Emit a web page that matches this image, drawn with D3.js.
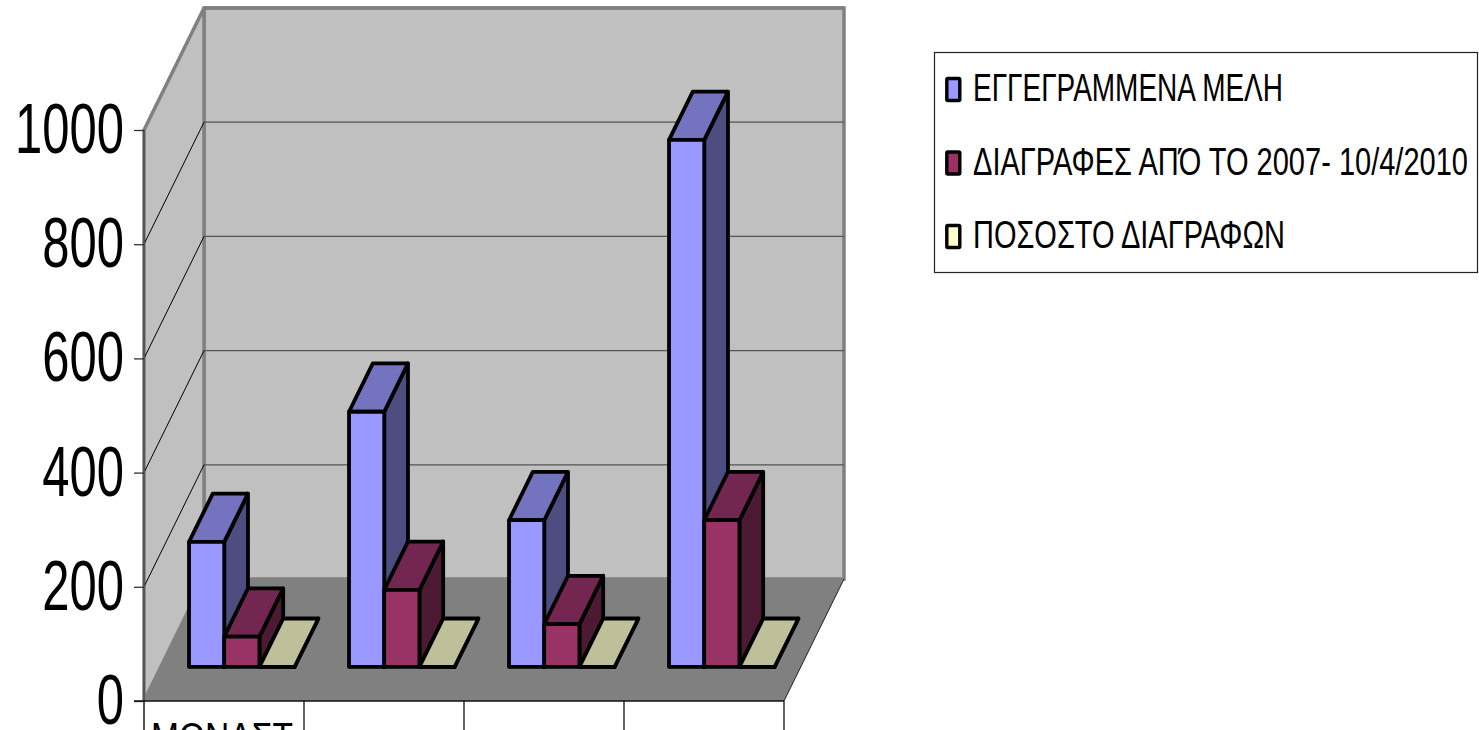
<!DOCTYPE html>
<html>
<head>
<meta charset="utf-8">
<script src="https://cdn.jsdelivr.net/npm/d3@7"></script>
<style>
html, body { margin: 0; padding: 0; background: #fff; overflow: hidden; }
text { font-family: "Liberation Sans", Arial, sans-serif; fill: #000; }
</style>
</head>
<body>
<div id="chart"></div>
<script>
// values
var categories = ["ΜΟΝΑΣΤ", "", " ", "  "];
var seriesNames = ["ΕΓΓΕΓΡΑΜΜΕΝΑ ΜΕΛΗ", "ΔΙΑΓΡΑΦΕΣ ΑΠΌ ΤΟ 2007- 10/4/2010", "ΠΟΣΟΣΤΟ ΔΙΑΓΡΑΦΩΝ"];
var members = [219, 447, 257, 923];
var deletions = [53, 135, 75, 257];
var deletionShare = [0.24, 0.3, 0.29, 0.28];
var yTicks = [0, 200, 400, 600, 800, 1000];

var frontColors = ["#9999ff", "#993366", "#ffffcc"];
var topColors = ["#7373bf", "#732650", "#bfbf99"];
var sideColors = ["#4d4d80", "#4d1a33", "#808066"];

var width = 1479, height = 730;

var svg = d3.select("#chart").append("svg")
    .attr("width", width)
    .attr("height", height)
    .style("display", "block");

var x = d3.scaleBand().domain(categories).range([144, 784]).paddingInner(0.34).paddingOuter(0.17).align(0.52);
var inner = d3.scaleBand().domain(d3.range(3)).range([0, x.bandwidth()]);
var y = d3.scaleLinear().domain([0, 1000]).range([701, 130]);

// depth axis of the 3d box: 0 is the front edge, 1 the back wall
var depthX = d3.scaleLinear().domain([0, 1]).range([0, 60]);
var depthY = d3.scaleLinear().domain([0, 1]).range([0, -122]);
var barFront = 0.279, barBack = 0.675;

function pt(px, value, depth) {
    return [px + depthX(depth), y(value) + depthY(depth)];
}

function poly(points) {
    return points.map(function(p) { return p.join(","); }).join(" ");
}

var left = x.range()[0], right = x.range()[1];

// walls and floor
svg.append("polygon")
    .attr("points", poly([pt(left, 1000, 1), pt(right, 1000, 1), pt(right, 0, 1), pt(left, 0, 1)]))
    .attr("fill", "#c0c0c0")
    .attr("stroke", "#808080")
    .attr("stroke-width", 3.5);

svg.append("polygon")
    .attr("points", poly([pt(left, 1000, 0), pt(left, 1000, 1), pt(left, 0, 1), pt(left, 0, 0)]))
    .attr("fill", "#c0c0c0")
    .attr("stroke", "#808080")
    .attr("stroke-width", 3.5);

svg.append("polygon")
    .attr("points", poly([pt(left, 0, 0), pt(right, 0, 0), pt(right, 0, 1), pt(left, 0, 1)]))
    .attr("fill", "#808080");

// gridlines
var gridTicks = yTicks.slice(1, -1);

svg.selectAll(".grid-back")
    .data(yTicks.slice(1))
    .enter()
    .append("line")
    .attr("class", "grid-back")
    .attr("x1", left + depthX(1))
    .attr("x2", right + depthX(1))
    .attr("y1", (d) => pt(left, d, 1)[1])
    .attr("y2", (d) => pt(left, d, 1)[1])
    .attr("stroke", (d) => d == 1000 ? "#808080" : "#555")
    .attr("stroke-width", (d) => d == 1000 ? 3.5 : 1.3);

svg.selectAll(".grid-side")
    .data(gridTicks)
    .enter()
    .append("line")
    .attr("class", "grid-side")
    .attr("x1", left)
    .attr("x2", left + depthX(1))
    .attr("y1", (d) => y(d))
    .attr("y2", (d) => pt(left, d, 1)[1])
    .attr("stroke", "#000")
    .attr("stroke-width", 1);

// front corner of the left wall, and floor edges
svg.append("line")
    .attr("x1", left).attr("x2", left)
    .attr("y1", y(1000)).attr("y2", y(0))
    .attr("stroke", "#555").attr("stroke-width", 2);

svg.append("line")
    .attr("x1", right).attr("x2", right + depthX(1))
    .attr("y1", y(0)).attr("y2", pt(right, 0, 1)[1])
    .attr("stroke", "#222").attr("stroke-width", 1);

// bars
var seriesValues = [members, deletions, deletionShare];

var bars = [];
categories.forEach(function(cat, c) {
    seriesValues.forEach(function(values, s) {
        bars.push({ category: cat, series: s, value: values[c] });
    });
});

var barGroups = svg.selectAll(".bar")
    .data(bars)
    .enter()
    .append("g")
    .attr("class", "bar")
    .attr("stroke", "#000")
    .attr("stroke-width", 3.8)
    .attr("stroke-linejoin", "round");

barGroups.append("polygon")
    .attr("fill", (d) => sideColors[d.series])
    .attr("points", function(d) {
        var r = x(d.category) + inner(d.series) + inner.bandwidth();
        return poly([pt(r, 0, barFront), pt(r, d.value, barFront), pt(r, d.value, barBack), pt(r, 0, barBack)]);
    });

barGroups.append("polygon")
    .attr("fill", (d) => topColors[d.series])
    .attr("points", function(d) {
        var l = x(d.category) + inner(d.series);
        var r = l + inner.bandwidth();
        return poly([pt(l, d.value, barFront), pt(r, d.value, barFront), pt(r, d.value, barBack), pt(l, d.value, barBack)]);
    });

barGroups.append("polygon")
    .attr("fill", (d) => frontColors[d.series])
    .attr("points", function(d) {
        var l = x(d.category) + inner(d.series);
        var r = l + inner.bandwidth();
        return poly([pt(l, 0, barFront), pt(r, 0, barFront), pt(r, d.value, barFront), pt(l, d.value, barFront)]);
    });

// value axis
var yAxis = d3.axisLeft(y).tickValues(yTicks).tickSize(10).tickPadding(10).tickFormat(d3.format("d"));

var yG = svg.append("g")
    .attr("transform", "translate(" + left + ",0)")
    .call(yAxis);

yG.select(".domain").remove();
yG.selectAll(".tick line").attr("stroke", "#333").attr("stroke-width", 1.3);
yG.selectAll(".tick text")
    .attr("font-size", 70)
    .attr("font-family", "Liberation Sans")
    .attr("fill", "#000")
    .attr("transform", "scale(0.7,1)")
    .attr("x", -20 / 0.7);

// category table under the floor
var cellEdges = d3.range(categories.length + 1).map((i) => left + i * x.step());

svg.selectAll(".cell")
    .data(cellEdges)
    .enter()
    .append("line")
    .attr("class", "cell")
    .attr("x1", (d) => d).attr("x2", (d) => d)
    .attr("y1", y(0)).attr("y2", height)
    .attr("stroke", (d, i) => i == 0 ? "#555" : "#000")
    .attr("stroke-width", (d, i) => i == 0 ? 2 : 1.2);

svg.append("line")
    .attr("x1", left - 10).attr("x2", right)
    .attr("y1", y(0)).attr("y2", y(0))
    .attr("stroke", "#111").attr("stroke-width", 1.5);

svg.selectAll(".cat-label")
    .data(categories)
    .enter()
    .append("text")
    .attr("class", "cat-label")
    .attr("transform", (d, i) => "translate(" + (cellEdges[i] + x.step() / 2 - 2) + ",751) scale(0.84,1)")
    .attr("text-anchor", "middle")
    .attr("font-size", 40)
    .text((d) => d);

// legend
var legend = svg.append("g");

legend.append("rect")
    .attr("x", 934.5).attr("y", 52.5)
    .attr("width", 543).attr("height", 220)
    .attr("fill", "#fff")
    .attr("stroke", "#222")
    .attr("stroke-width", 1.2);

var rowY = d3.scalePoint().domain(seriesNames).range([89.5, 236.5]);
var legendTextWidths = [310, 495, 312];

var rows = legend.selectAll(".legend-row")
    .data(seriesNames)
    .enter()
    .append("g")
    .attr("class", "legend-row")
    .attr("transform", (d) => "translate(0," + rowY(d) + ")");

rows.append("rect")
    .attr("x", 946.8).attr("y", -11)
    .attr("width", 13).attr("height", 22)
    .attr("rx", 1)
    .attr("fill", (d, i) => frontColors[i])
    .attr("stroke", "#000")
    .attr("stroke-width", 3.4);

rows.append("text")
    .attr("x", 973)
    .attr("y", 11.5)
    .attr("font-size", 39)
    .attr("textLength", (d, i) => legendTextWidths[i])
    .attr("lengthAdjust", "spacingAndGlyphs")
    .text((d) => d);
</script>
</body>
</html>
